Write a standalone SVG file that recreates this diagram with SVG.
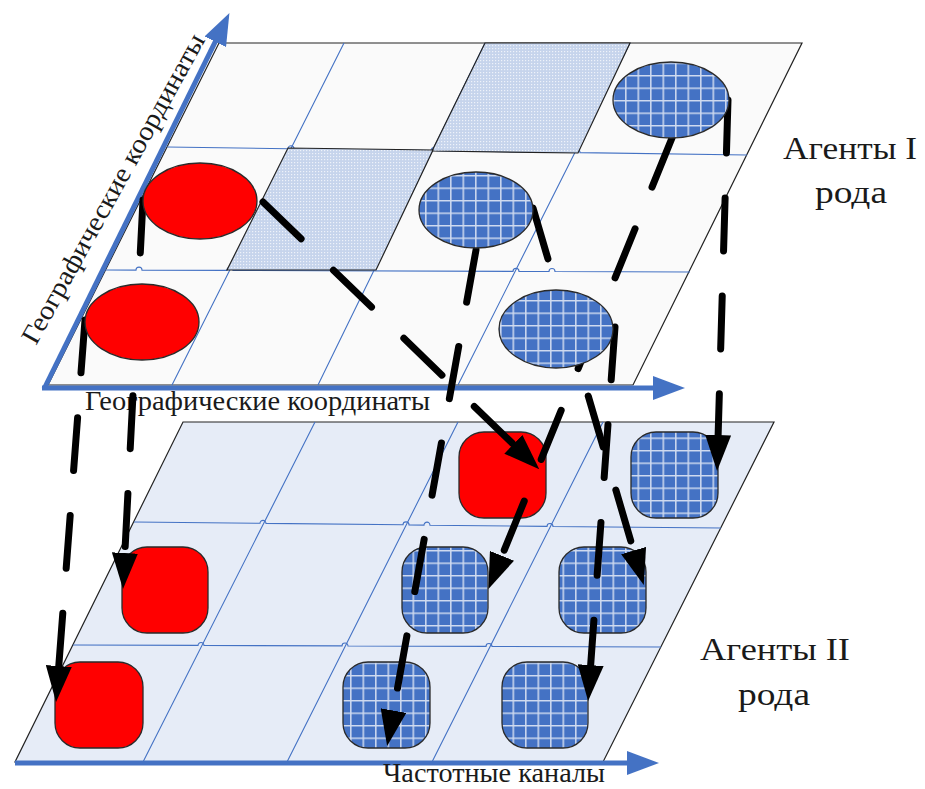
<svg xmlns="http://www.w3.org/2000/svg" width="925" height="789" viewBox="0 0 925 789">
  <defs>
    <style>
      .plane-top { fill: #fafafa; stroke: #222; stroke-width: 1.2; }
      .plane-bot { fill: #e6ecf7; stroke: #222; stroke-width: 1.2; }
      .grid { fill: none; stroke: #4472c4; stroke-width: 1.1; }
      .busy { fill: url(#dots); stroke: #222; stroke-width: 1.2; }
      .axis { fill: none; stroke: #4472c4; stroke-width: 5; }
      .red { fill: #ff0000; stroke: #2a2a2a; stroke-width: 1.3; }
      .blue { fill: url(#mesh); stroke: #2a2a2a; stroke-width: 1.3; }
      .link { fill: none; stroke: #000; stroke-width: 7; stroke-linecap: round; stroke-dasharray: 53 45; marker-end: url(#head); }
      text { font-family: "Liberation Serif", "Times New Roman", serif; fill: #1a1a1a; }
      .axis-label { font-size: 27px; }
      .kind-label { font-size: 31px; }
    </style>
    <!-- blue cells with a light mesh -->
    <pattern id="mesh" patternUnits="userSpaceOnUse" width="12.5" height="12.5">
      <rect width="12.5" height="12.5" fill="#4472c4"/>
      <path d="M0,0.8 H12.5 M0.8,0 V12.5" stroke="#d0dbf0" stroke-width="1.5"/>
    </pattern>
    <!-- fine dotted fill for occupied cells -->
    <pattern id="dots" patternUnits="userSpaceOnUse" width="3" height="3">
      <rect width="3" height="3" fill="#c6d4ec"/>
      <rect width="1.2" height="1.2" fill="#eef2fa"/>
    </pattern>
    <marker id="head" viewBox="0 0 36 26" refX="1" refY="13" markerWidth="36" markerHeight="26" markerUnits="userSpaceOnUse" orient="auto">
      <path d="M0,0 L36,13 L0,26 z" fill="#000"/>
    </marker>
    <marker id="axhead" viewBox="0 0 32 24" refX="1" refY="12" markerWidth="32" markerHeight="24" markerUnits="userSpaceOnUse" orient="auto">
      <path d="M0,0 L32,12 L0,24 z" fill="#4472c4"/>
    </marker>
  </defs>

  <!-- lower plane: frequency channels -->
  <g id="plane-channels">
    <polygon class="plane-bot" points="183,422 774,422 603,762 15,762"/>
    <path class="grid" d="M315,422 L143,762 M458,422 L287,762 M603,422 L432,762"/>
    <path class="grid" d="M134,522 L260,523.3 A3,3 0 0 1 266,523.4 L403,524.8 A3,3 0 0 1 409,524.9 L424,525.1 A3,3 0 0 1 430,525.2 L547,526.4 A3,3 0 0 1 553,526.5 L721,528"/>
    <path class="grid" d="M73,645 L198,645.4 A3,3 0 0 1 204,645.5 L342,645.9 A3,3 0 0 1 348,646 L486,646.4 A3,3 0 0 1 492,646.5 L661,647"/>
  </g>
  <g id="axis-channels">
    <line class="axis" x1="15" y1="763" x2="628" y2="763" marker-end="url(#axhead)"/>
  </g>

  <!-- second-kind agents -->
  <g id="agent2-r1c3"><rect class="red" x="459" y="432" width="87" height="86" rx="25"/></g>
  <g id="agent2-r1c4"><rect class="blue" x="631" y="432" width="87" height="86" rx="25"/></g>
  <g id="agent2-r2c1"><rect class="red" x="122" y="547" width="86" height="86" rx="25"/></g>
  <g id="agent2-r2c3"><rect class="blue" x="402" y="547" width="86" height="86" rx="25"/></g>
  <g id="agent2-r2c4"><rect class="blue" x="559" y="547" width="87" height="86" rx="25"/></g>
  <g id="agent2-r3c1"><rect class="red" x="55" y="662" width="88" height="86" rx="25"/></g>
  <g id="agent2-r3c3"><rect class="blue" x="343" y="662" width="87" height="86" rx="25"/></g>
  <g id="agent2-r3c4"><rect class="blue" x="502" y="662" width="86" height="86" rx="25"/></g>

  <!-- upper plane: geographic coordinates -->
  <g id="plane-geo">
    <polygon class="plane-top" points="219,43 802,43 633,385 48,385"/>
    <path class="grid" d="M344,43 L172,385 M485,43 L318,385 M630,43 L458,385"/>
    <path class="grid" d="M167,147 L288,148.7 A3,3 0 0 1 294,148.8 L431,150.6 A3,3 0 0 1 437,150.7 L574,152.5 A3,3 0 0 1 580,152.6 L747,155"/>
    <path class="grid" d="M105.5,270 L136,270.1 A3,3 0 0 1 142,270.1 L227,270.4 A3,3 0 0 1 233,270.4 L513,271.4 A3,3 0 0 1 519,271.4 L549,271.5 A3,3 0 0 1 555,271.5 L690,272"/>
    <polygon id="cell-r1c3" class="busy" points="485,43 630,43 578,153 432,151"/>
    <polygon id="cell-r2c2" class="busy" points="288,148 433,150 376,270 227,270"/>
  </g>
  <g id="axes-geo">
    <line class="axis" x1="44" y1="389" x2="215.7" y2="40.9" marker-end="url(#axhead)"/>
    <line class="axis" x1="42" y1="388" x2="654" y2="388" marker-end="url(#axhead)"/>
  </g>

  <!-- axis captions and layer titles -->
  <g id="labels">
    <text class="axis-label" x="85" y="410" textLength="345" lengthAdjust="spacingAndGlyphs">Географические координаты</text>
    <text class="axis-label" transform="translate(36,346) rotate(-61)" textLength="350" lengthAdjust="spacingAndGlyphs">Географические координаты</text>
    <text class="axis-label" x="383" y="782" textLength="222" lengthAdjust="spacingAndGlyphs">Частотные каналы</text>
    <text class="kind-label" x="783" y="159" textLength="134" lengthAdjust="spacingAndGlyphs">Агенты I</text>
    <text class="kind-label" x="815" y="203" textLength="72" lengthAdjust="spacingAndGlyphs">рода</text>
    <text class="kind-label" x="700" y="660" textLength="150" lengthAdjust="spacingAndGlyphs">Агенты II</text>
    <text class="kind-label" x="738" y="705" textLength="72" lengthAdjust="spacingAndGlyphs">рода</text>
  </g>

  <!-- projections from the upper layer onto the channel layer -->
  <g id="connectors">
    <line class="link" x1="143" y1="200" x2="124.8" y2="554"/>
    <line class="link" x1="85" y1="320" x2="58.7" y2="667.1"/>
    <line class="link" x1="476" y1="250" x2="393.3" y2="711.6"/>
    <line class="link" x1="533" y1="208" x2="633.9" y2="551.5"/>
    <line class="link" x1="615" y1="327" x2="590.6" y2="666.1"/>
    <line class="link" x1="672" y1="138" x2="501.6" y2="556.7"/>
    <line class="link" x1="728" y1="100" x2="718.1" y2="436"/>
    <line class="link" x1="263" y1="202" x2="514.1" y2="445"/>
  </g>

  <!-- first-kind agents -->
  <g id="agent1-r2c1"><ellipse class="red" cx="200" cy="201" rx="57" ry="38"/></g>
  <g id="agent1-r3c1"><ellipse class="red" cx="142" cy="322" rx="57" ry="38"/></g>
  <g id="agent1-r2c3"><ellipse class="blue" cx="476" cy="210" rx="57" ry="38"/></g>
  <g id="agent1-r3c4"><ellipse class="blue" cx="556" cy="329" rx="57" ry="39"/></g>
  <g id="agent1-r1c4"><ellipse class="blue" cx="671" cy="100" rx="58" ry="38"/></g>
</svg>
